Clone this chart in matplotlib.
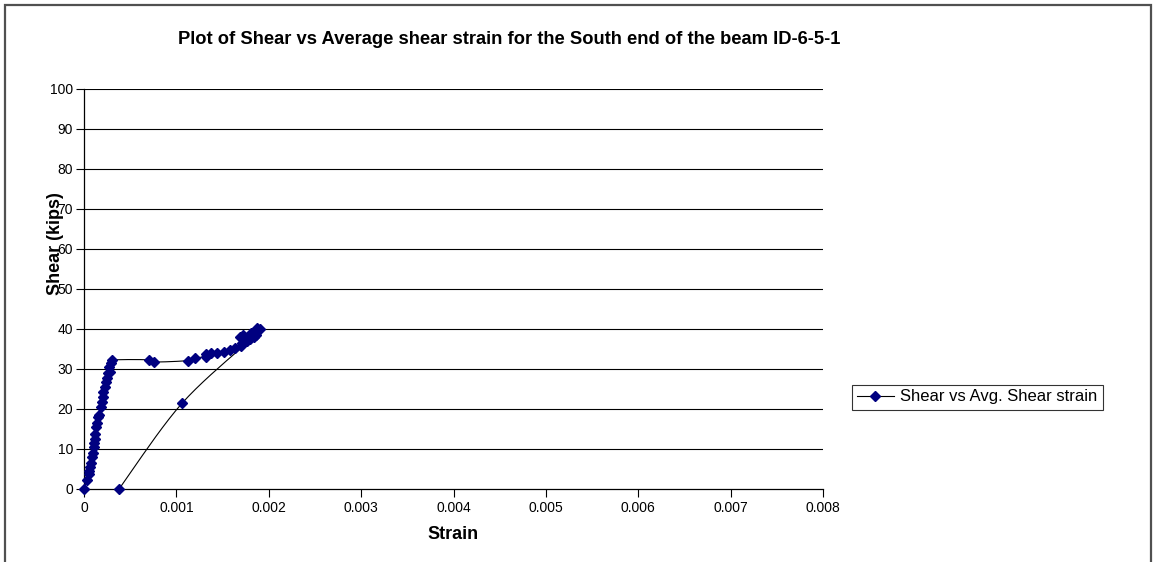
import numpy as np
import matplotlib
matplotlib.use("Agg")
import matplotlib.pyplot as plt
from matplotlib.patches import Rectangle

plt.rcParams['font.family'] = ['Liberation Sans', 'DejaVu Sans']

# shear (kips) vs average shear strain, in test order: loading, plateau, unloading
strain = [0, 0.000036, 0.000054, 0.000058, 0.000065, 0.000072, 0.000087, 0.000094,
          0.000105, 0.00011, 0.000115, 0.000122, 0.00013, 0.000137, 0.000148, 0.000166,
          0.000184, 0.000195, 0.000202, 0.000209, 0.000224, 0.000238, 0.000245, 0.000263,
          0.00028, 0.000274, 0.000289, 0.000306,
          0.0007, 0.00076, 0.00113, 0.0012, 0.00132, 0.00132, 0.00138, 0.00144, 0.00152,
          0.00158, 0.00163, 0.0017, 0.00171, 0.00176, 0.0018, 0.00169, 0.00172, 0.00178,
          0.00184, 0.00181, 0.00184, 0.00187, 0.0019, 0.00186,
          0.00106, 0.00038]
shear = [0, 2.25, 3.7, 4.6, 5.6, 6.6, 7.9, 9.1,
         10.4, 11.6, 12.6, 13.75, 15.4, 16.6, 17.9, 18.4,
         20.6, 21.8, 23.1, 24.3, 25.6, 26.8, 27.7, 28.9,
         29.3, 30.6, 31.4, 32.25,
         32.3, 31.75, 32.1, 32.75, 33.1, 33.7, 33.9, 34.1, 34.2,
         34.75, 35.2, 35.75, 36.4, 37.0, 37.5, 38.1, 38.5, 37.4,
         38.1, 38.9, 39.3, 40.2, 40.0, 38.5,
         21.4, 0]

xticks = [0, 0.001, 0.002, 0.003, 0.004, 0.005, 0.006, 0.007, 0.008]
xlabels = ["0", "0.001", "0.002", "0.003", "0.004", "0.005", "0.006", "0.007", "0.008"]
yticks = [0, 10, 20, 30, 40, 50, 60, 70, 80, 90, 100]


def smooth(x, y, n=12, t=1/6.):
    # cardinal spline through the points, like a spreadsheet "smoothed line"
    x = np.asarray(x, float)
    y = np.asarray(y, float)
    px, py = [x[0]], [y[0]]
    s = np.linspace(0, 1, n)[1:]
    for i in range(len(x) - 1):
        i0, i3 = max(i - 1, 0), min(i + 2, len(x) - 1)
        c1x = x[i] + (x[i + 1] - x[i0]) * t
        c1y = y[i] + (y[i + 1] - y[i0]) * t
        c2x = x[i + 1] - (x[i3] - x[i]) * t
        c2y = y[i + 1] - (y[i3] - y[i]) * t
        bx = (1-s)**3*x[i] + 3*(1-s)**2*s*c1x + 3*(1-s)*s**2*c2x + s**3*x[i+1]
        by = (1-s)**3*y[i] + 3*(1-s)**2*s*c1y + 3*(1-s)*s**2*c2y + s**3*y[i+1]
        px.extend(bx)
        py.extend(by)
    return np.array(px), np.array(py)


fig = plt.figure(figsize=(11.54, 5.62), dpi=100)
ax = fig.add_axes([84/1154, 1-489/562, (823-84)/1154, 400/562])

sx, sy = smooth(strain, shear)
ax.plot(sx, sy, color='black', lw=0.8, zorder=3)
ax.plot(strain, shear, linestyle='none', marker='D', ms=4.6, color='#000080',
        markeredgecolor='#000080', zorder=4, clip_on=False)
# legend entry: line with diamond
ax.plot([], [], color='black', lw=0.8, marker='D', ms=4.6, markerfacecolor='#000080',
        markeredgecolor='#000080', label='Shear vs Avg. Shear strain')

ax.set_xlim(0, 0.008)
ax.set_ylim(0, 100)
ax.set_xticks(xticks)
ax.set_xticklabels(xlabels)
ax.set_yticks(yticks)
ax.tick_params(axis='both', direction='out', length=6, width=0.8, labelsize=10)
ax.tick_params(axis='y', pad=2)
ax.tick_params(axis='x', pad=2.5)
for y in yticks[1:]:
    ax.axhline(y, color='black', lw=0.8, zorder=1)
ax.spines['top'].set_visible(False)
ax.spines['right'].set_visible(False)
ax.spines['left'].set_linewidth(0.9)
ax.spines['bottom'].set_linewidth(0.9)

ax.set_xlabel('Strain', fontsize=13, fontweight='bold', labelpad=8)
fig.text(56/1154, 1-244/562, 'Shear (kips)', rotation=90, fontsize=13, fontweight='bold',
         ha='center', va='center')
fig.text(509/1154, 1-40/562, 'Plot of Shear vs Average shear strain for the South end of the beam ID-6-5-1',
         fontsize=13.2, fontweight='bold', ha='center', va='center')

leg = fig.legend(loc='center left', bbox_to_anchor=(852/1154, 1-397/562), fontsize=12,
                 frameon=True, fancybox=False, edgecolor='black', borderpad=0.3,
                 handlelength=2.2, handletextpad=0.4, borderaxespad=0)
leg.get_frame().set_linewidth(0.8)

fig.patches.append(Rectangle((5/1154, -0.1), (1151-5)/1154, 1.1-5/562, transform=fig.transFigure,
                             fill=False, edgecolor='#505050', lw=1.6))

fig.savefig('out.png', dpi=100)
